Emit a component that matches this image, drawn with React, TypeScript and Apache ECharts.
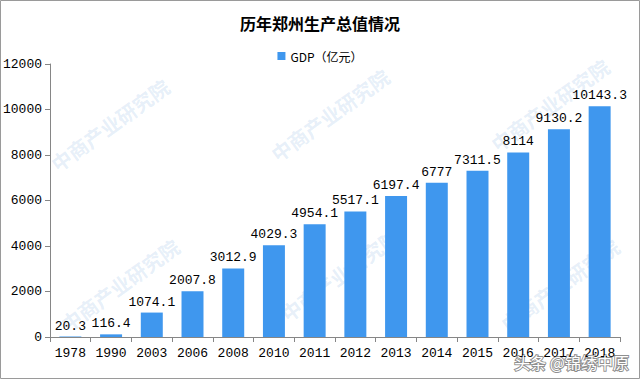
import React, { useEffect, useRef } from "react";
import * as echarts from "echarts";

const categories = ["1978", "1990", "2003", "2006", "2008", "2010", "2011", "2012", "2013", "2014", "2015", "2016", "2017", "2018"];
const gdpValues = [20.3, 116.4, 1074.1, 2007.8, 3012.9, 4029.3, 4954.1, 5517.1, 6197.4, 6777, 7311.5, 8114, 9130.2, 10143.3];
const yTicks = [0, 2000, 4000, 6000, 8000, 10000, 12000];
const titleText = "历年郑州生产总值情况";
const seriesName = "GDP（亿元）";

const MONO = '"Liberation Mono", "DejaVu Sans Mono", monospace';
const CJK = '"Noto Sans CJK SC", serif';

export default function App() {
  const ref = useRef<HTMLDivElement>(null);
  useEffect(() => {
    if (!ref.current) return;
    const chart = echarts.init(ref.current, null, { renderer: "svg" });
    const watermarks: any[] = [];
    const spots = [
      [110, 125], [330, 115], [550, 105], [120, 285], [340, 275], [560, 285],
    ];
    spots.forEach(([x, y]) => {
      watermarks.push({
        type: "text",
        x,
        y,
        rotation: Math.PI / 5,
        silent: true,
        z: -1,
        style: {
          text: "中商产业研究院",
          fill: "rgba(110,165,220,0.18)",
          font: `bold 20px ${CJK}`,
          align: "center",
          verticalAlign: "middle",
        },
      });
    });
    chart.setOption({
      animation: false,
      backgroundColor: "#ffffff",
      title: {
        text: titleText,
        left: "center",
        top: 10,
        textStyle: { fontFamily: CJK, fontSize: 16, fontWeight: "bold", color: "#000" },
      },
      legend: {
        top: 45,
        left: "center",
        itemWidth: 8,
        itemHeight: 8,
        itemGap: 4,
        icon: "rect",
        textStyle: { fontFamily: CJK, fontSize: 12, color: "#000" },
        data: [seriesName],
      },
      grid: { left: 50, right: 20, top: 64, bottom: 42, containLabel: false },
      xAxis: {
        type: "category",
        data: categories,
        axisLine: { lineStyle: { color: "#868686" } },
        axisTick: { show: true, alignWithLabel: false, length: 5, lineStyle: { color: "#868686" } },
        axisLabel: { fontFamily: MONO, fontSize: 13, color: "#000", margin: 10, interval: 0 },
      },
      yAxis: {
        type: "value",
        min: 0,
        max: 12000,
        interval: 2000,
        axisLine: { show: true, lineStyle: { color: "#868686" } },
        axisTick: { show: true, length: 5, lineStyle: { color: "#868686" } },
        splitLine: { show: false },
        axisLabel: {
          fontFamily: MONO,
          fontSize: 13,
          color: "#000",
          margin: 8,
          formatter: (v: number) => (yTicks.includes(v) ? String(v) : ""),
        },
      },
      graphic: [
        ...watermarks,
        {
          type: "rect",
          shape: { x: 0.5, y: 0.5, width: 639, height: 378 },
          style: { fill: "none", stroke: "#9a9a9a", lineWidth: 1 },
          silent: true,
          z: 100,
        },
        {
          type: "text",
          right: 10,
          bottom: 8,
          z: 100,
          style: {
            text: "头条 @锦绣中原",
            fill: "#ffffff",
            font: `16px ${CJK}`,
            stroke: "rgba(0,0,0,0.45)",
            lineWidth: 2,
          },
        },
      ],
      series: [
        {
          name: seriesName,
          type: "bar",
          data: gdpValues,
          barWidth: "54%",
          itemStyle: { color: "#3f97ee" },
          label: {
            show: true,
            position: "top",
            distance: 4,
            fontFamily: MONO,
            fontSize: 13,
            color: "#000",
          },
        },
      ],
    });
    return () => chart.dispose();
  }, []);
  return (
    <div
      ref={ref}
      style={{ position: "fixed", left: 0, top: 0, width: 640, height: 379 }}
    />
  );
}
